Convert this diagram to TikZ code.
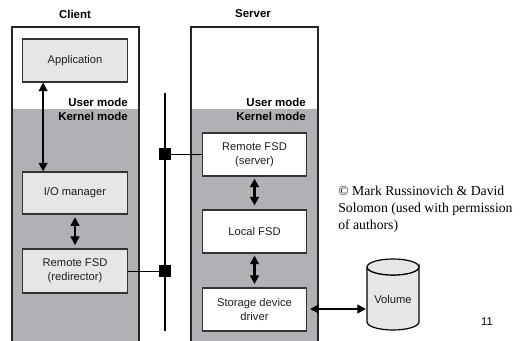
\documentclass[tikz,border=0pt]{standalone}
\usepackage{fontspec}
\setmainfont{Liberation Sans}
\newfontfamily\serifcopy{Liberation Serif}
\usetikzlibrary{arrows.meta}
\definecolor{kgray}{RGB}{178,176,180}
\definecolor{boxfill}{RGB}{230,230,230}
\definecolor{txt}{RGB}{30,30,30}
\begin{document}
\begin{tikzpicture}[x=0.75pt,y=-0.75pt,
  frame/.style={draw=black!85, line width=1.1pt},
  cbox/.style={draw=black!80, line width=0.8pt, fill=boxfill, minimum width=78.5pt, minimum height=32.25pt, inner sep=0pt, align=center, font=\fontsize{8.4pt}{10.5pt}\selectfont, text=txt},
  sbox/.style={cbox, fill=white},
  modelbl/.style={font=\bfseries\fontsize{8.6pt}{10pt}\selectfont, inner sep=0pt, anchor=east},
  head/.style={font=\bfseries\fontsize{8.6pt}{10pt}\selectfont, inner sep=0pt},
  dbl/.style={line width=1.7pt, {Triangle[length=6.5pt,width=6.5pt]}-{Triangle[length=6.5pt,width=6.5pt]}},
  sq/.style={fill=black, minimum size=9pt, inner sep=0pt},
  wire/.style={line width=0.9pt}
]
\useasboundingbox (0,0) rectangle (521,341);
% frames
\fill[white] (12,27) rectangle (139,109);
\fill[kgray] (12,109) rectangle (139,345);
\draw[frame] (12,345) -- (12,27) -- (139,27) -- (139,345);
\fill[white] (191,27) rectangle (318,109);
\fill[kgray] (191,109) rectangle (318,345);
\draw[frame] (191,345) -- (191,27) -- (318,27) -- (318,345);
% headings
\node[head] (client) at (75,14) {Client};
\node[head] (server) at (253,14) {Server};
\node[modelbl] (um1) at (128,102) {User mode};
\node[modelbl] (km1) at (128,116) {Kernel mode};
\node[modelbl] (um2) at (306,102) {User mode};
\node[modelbl] (km2) at (306,116) {Kernel mode};
% client boxes
\node[cbox, minimum height=32.25pt] (app) at (75,60.5) {Application};
\node[cbox, minimum height=31.5pt] (io) at (75,193) {I/O manager};
\node[cbox, minimum height=33pt] (redir) at (75,271) {Remote FSD\\(redirector)};
% server boxes
\node[sbox] (rserv) at (254.5,154.5) {Remote FSD\\(server)};
\node[sbox] (lfsd) at (254.5,231.5) {Local FSD};
\node[sbox] (sdd) at (254.5,309.5) {Storage device\\driver};
% network line
\coordinate (ntop) at (165,93);
\coordinate (nbot) at (165,331);
\draw[wire] (ntop) -- (nbot);
\node[sq] (s1) at (165,154.5) {};
\node[sq] (s2) at (165,271.5) {};
\draw[wire] (s1) -- (rserv.west);
\draw[wire] (redir.east |- s2) -- (s2);
% arrows
\draw[dbl] ([xshift=15.75pt]app.south west) -- ([xshift=15.75pt]io.north west);
\draw[dbl, shorten <=2pt, shorten >=2.5pt] (io.south) -- (redir.north);
\draw[dbl, shorten <=1.5pt, shorten >=3pt] (rserv.south) -- (lfsd.north);
\draw[dbl, shorten <=1.5pt, shorten >=2.5pt] (lfsd.south) -- (sdd.north);
% volume
\draw[line width=0.9pt, fill=boxfill] (367,267) -- (367,322) arc[start angle=180, end angle=0, x radius=26, y radius=8] -- (419,267) arc[start angle=0, end angle=180, x radius=26, y radius=8];
\draw[line width=0.9pt, fill=boxfill] (393,267) ellipse[x radius=26, y radius=8];
\node[font=\fontsize{8.4pt}{10pt}\selectfont, text=txt] (vol) at (393,300) {Volume};
\coordinate (volL) at (366,309);
\draw[dbl, shorten <=2pt] (sdd.east |- volL) -- (volL);
% copyright
\node[font=\serifcopy\fontsize{10.3pt}{12.75pt}\selectfont, align=left, inner sep=0pt, anchor=west] (copy) at (338,209) {© Mark Russinovich \& David\\Solomon (used with permission\\of authors)};
\node[font=\fontsize{8.4pt}{10pt}\selectfont] (pg) at (487,322) {11};
\end{tikzpicture}
\end{document}
